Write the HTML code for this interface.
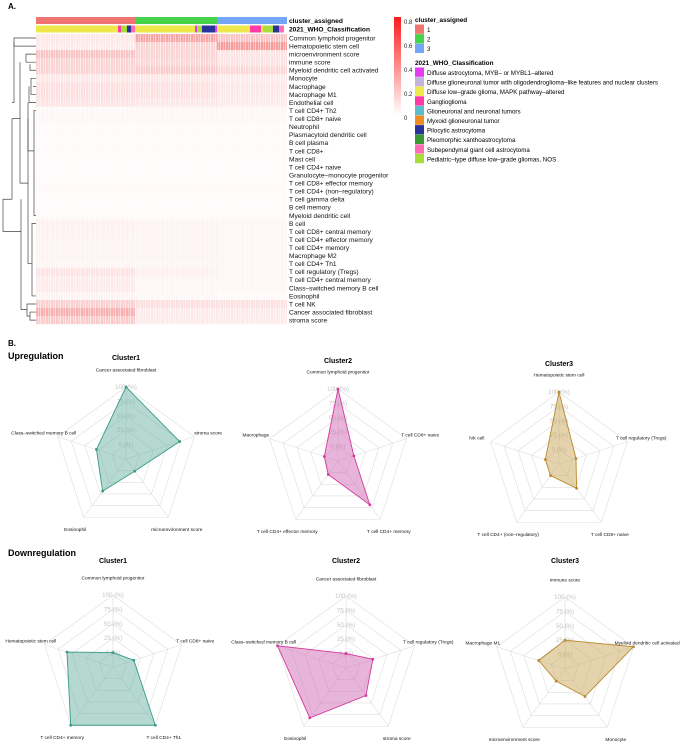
<!DOCTYPE html>
<html><head><meta charset="utf-8"><style>
body{margin:0;background:#fff;width:683px;height:744px;overflow:hidden;font-family:"Liberation Sans",sans-serif}
svg{display:block}
</style></head><body>
<svg id="fig" width="683" height="744" xmlns="http://www.w3.org/2000/svg">
<defs>
<pattern id="stripes" width="5" height="10" patternUnits="userSpaceOnUse">
<rect x="0" y="0" width="1" height="10" fill="#fff" opacity="0.55"/>
<rect x="3" y="0" width="1" height="10" fill="#fff" opacity="0.35"/>
</pattern>
<linearGradient id="cbar" x1="0" y1="1" x2="0" y2="0">
<stop offset="0" stop-color="#fff"/><stop offset="1" stop-color="#ff1a1a"/>
</linearGradient>
</defs>
<text x="8" y="9" font-size="8" font-weight="bold">A.</text>
<text x="8" y="346" font-size="8" font-weight="bold">B.</text>
<text x="8" y="359" font-size="9" font-weight="bold">Upregulation</text>
<text x="8" y="556" font-size="9" font-weight="bold">Downregulation</text>
<g id="heat"></g>
<g id="legend"></g>
<g id="radars"></g>
</svg>
<script>
const NS="http://www.w3.org/2000/svg";
function mk(tag,attrs,parent,txt){const e=document.createElementNS(NS,tag);for(const k in attrs)e.setAttribute(k,attrs[k]);if(txt!==undefined)e.textContent=txt;parent.appendChild(e);return e;}

// ---------- Heatmap data ----------
const rowNames=["Common lymphoid progenitor","Hematopoietic stem cell","microenvironment score","immune score","Myeloid dendritic cell activated","Monocyte","Macrophage","Macrophage M1","Endothelial cell","T cell CD4+ Th2","T cell CD8+ naive","Neutrophil","Plasmacytoid dendritic cell","B cell plasma","T cell CD8+","Mast cell","T cell CD4+ naive","Granulocyte\u2013monocyte progenitor","T cell CD8+ effector memory","T cell CD4+ (non\u2013regulatory)","T cell gamma delta","B cell memory","Myeloid dendritic cell","B cell","T cell CD8+ central memory","T cell CD4+ effector memory","T cell CD4+ memory","Macrophage M2","T cell CD4+ Th1","T cell regulatory (Tregs)","T cell CD4+ central memory","Class\u2013switched memory B cell","Eosinophil","T cell NK","Cancer associated fibroblast","stroma score"];
const clusterLabels=["1","2","3"];
const valsC1=[0.12,0.10,0.30,0.22,0.22,0.12,0.16,0.16,0.14,0.04,0.04,0.02,0.03,0.02,0.03,0.02,0.02,0.02,0.03,0.03,0.02,0.02,0.03,0.07,0.07,0.06,0.06,0.06,0.05,0.14,0.10,0.10,0.06,0.24,0.40,0.26];
const valsC2=[0.45,0.22,0.22,0.20,0.26,0.12,0.15,0.15,0.12,0.05,0.05,0.02,0.03,0.02,0.03,0.02,0.02,0.02,0.03,0.03,0.02,0.02,0.03,0.06,0.06,0.06,0.06,0.06,0.05,0.08,0.05,0.05,0.04,0.16,0.10,0.10];
const valsC3=[0.30,0.50,0.14,0.14,0.20,0.10,0.12,0.11,0.10,0.04,0.04,0.02,0.03,0.02,0.03,0.02,0.02,0.02,0.03,0.03,0.02,0.02,0.03,0.05,0.05,0.05,0.05,0.05,0.05,0.05,0.05,0.04,0.03,0.15,0.10,0.10];
const clusterCounts=[99,82,70];
const whoSegs=[["#eee84a",82],["#ff3aa6",3],["#a9dd3c",6],["#29339a",4],["#ff6ab5",4],["#eee84a",60],["#e43cef",2],["#a9dd3c",5],["#29339a",13],["#e43cef",2],["#eee84a",33],["#ff3aa6",11],["#eee84a",2],["#a9dd3c",10],["#29339a",6],["#ff6ab5",5]];

const heat=document.getElementById('heat');
const hx0=36,hx1=287,hy0=34,rowH=8.06;
const totalN=clusterCounts.reduce((a,b)=>a+b,0);
const xs=n=>hx0+(hx1-hx0)*n/totalN;
const clusterColors=["#f07470","#44d34a","#74a6f8"];
let acc=0;
clusterCounts.forEach((c,i)=>{
  const r=mk('rect',{x:xs(acc),y:17,width:xs(acc+c)-xs(acc),height:7,fill:clusterColors[i]},heat);
  
  
  acc+=c;
});
acc=0;
whoSegs.forEach((s,i)=>{
  const r=mk('rect',{x:xs(acc),y:25.5,width:xs(acc+s[1])-xs(acc),height:7,fill:s[0]},heat);
  
  
  acc+=s[1];
});
const series=[valsC1,valsC2,valsC3];
rowNames.forEach((nm,ri)=>{
  let a=0;
  series.forEach((vals,ci)=>{
    const c=mk('rect',{x:xs(a),y:hy0+ri*rowH,width:xs(a+clusterCounts[ci])-xs(a),height:rowH,fill:'#f03838','fill-opacity':vals[ri]},heat);
    
    
    a+=clusterCounts[ci];
  });
  const t=mk('text',{x:289,y:hy0+ri*rowH+rowH/2+2.4,'font-size':6.6,fill:'#111'},heat,nm);
  
  
});
mk('rect',{x:hx0,y:hy0,width:hx1-hx0,height:rowNames.length*rowH,fill:'url(#stripes)'},heat);
const t1=mk('text',{x:289,y:23,'font-size':6.6,'font-weight':'bold'},heat,'cluster_assigned');

const t2=mk('text',{x:289,y:31.5,'font-size':6.6,'font-weight':'bold'},heat,'2021_WHO_Classification');


// dendrogram (approximate)
const dg=mk('g',{stroke:'#444','stroke-width':0.7,fill:'none'},heat);

const ry=i=>hy0+i*rowH+rowH/2;
const dPaths=[
 `M36 ${ry(0)}H14V${ry(1)}H36`,
 `M36 ${ry(2)}H26V${ry(3)}H36 M36 ${ry(4)}H30V${ry(3)+2}`,
 `M36 ${ry(5)}H31V${ry(7)}H36 M36 ${ry(6)}H33 M36 ${ry(8)}H29V${ry(6)}`,
 `M36 ${ry(9)}H34V${ry(22)}H36 M34 ${ry(14)}H28V${ry(8)}`,
 `M36 ${ry(23)}H32V${ry(32)}H36 M32 ${ry(28)}H28`,
 `M28 ${ry(10)}V${ry(28)} M28 ${ry(18)}H20 M20 ${ry(3)}V${ry(18)} M20 ${ry(10)}H12`,
 `M36 ${ry(33)}H27V${ry(34.5)}H30 M36 ${ry(34)}H30V${ry(35)}H36 M27 ${ry(33.7)}H21`,
 `M12 ${ry(10)}V${ry(20)} M14 ${ry(0.5)}V${ry(8)} M12 ${ry(8)}H14 M21 ${ry(20)}V${ry(33.7)} M12 ${ry(20)}H3V${ry(24)}H21`
];
dPaths.forEach(d=>mk('path',{d:d},dg));

// legend
const lg=document.getElementById('legend');
mk('rect',{x:394,y:17,width:7,height:98,fill:'url(#cbar)'},lg);
[["0.8",22],["0.6",46],["0.4",70],["0.2",94],["0",118]].forEach(t=>mk('text',{x:404,y:t[1]+2,'font-size':6,fill:'#222'},lg,t[0]));
mk('text',{x:415,y:22,'font-size':6.4,'font-weight':'bold'},lg,'cluster_assigned');
clusterLabels.forEach((l,i)=>{mk('rect',{x:415,y:24.5+i*9.6,width:9,height:9.3,fill:clusterColors[i]},lg);mk('text',{x:427,y:32+i*9.6,'font-size':6.2},lg,l);});
mk('text',{x:415,y:65,'font-size':6.4,'font-weight':'bold'},lg,'2021_WHO_Classification');
const whoNames=["Diffuse astrocytoma, MYB\u2013 or MYBL1\u2013altered","Diffuse glioneuronal tumor with oligodendroglioma\u2013like features and nuclear clusters","Diffuse low\u2013grade glioma, MAPK pathway\u2013altered","Ganglioglioma","Glioneuronal and neuronal tumors","Myxoid glioneuronal tumor","Pilocytic astrocytoma","Pleomorphic xanthoastrocytoma","Subependymal giant cell astrocytoma","Pediatric\u2013type diffuse low\u2013grade gliomas, NOS"];
const whoColors=["#e43cef","#c2b3dc","#eee84a","#ff3aa6","#5bbccb","#f08a23","#29339a","#3a9a32","#ff6ab5","#a9dd3c"];
whoNames.forEach((n,i)=>{mk('rect',{x:415,y:67.5+i*9.6,width:9,height:9.3,fill:whoColors[i]},lg);const t=mk('text',{x:427,y:75+i*9.6,'font-size':6.2},lg,n);});

// ---------- Radar data ----------
const upC1Axes=["Cancer associated fibroblast","stroma score","microenvironment score","Eosinophil","Class\u2013switched memory B cell"];
const upC1Vals=[100,73,1,44,29];
const upC2Axes=["Common lymphoid progenitor","T cell CD8+ naive","T cell CD4+ memory","T cell CD4+ effector memory","Macrophage"];
const upC2Vals=[100,4,69,4,0];
const upC3Axes=["Hematopoietic stem cell","T cell regulatory (Tregs)","T cell CD8+ naive","T cell CD4+ (non\u2013regulatory)","NK cell"];
const upC3Vals=[100,6,27,0,0];
const dnC1Axes=["Common lymphoid progenitor","T cell CD8+ naive","T cell CD4+ Th1","T cell CD4+ memory","Hematopoietic stem cell"];
const dnC1Vals=[0,13,100,100,59];
const dnC2Axes=["Cancer associated fibroblast","T cell regulatory (Tregs)","stroma score","Eosinophil","Class\u2013switched memory B cell"];
const dnC2Vals=[0,24,34,82,100];
const dnC3Axes=["immune score","Myeloid dendritic cell activated","Monocyte","microenvironment score","Macrophage M1"];
const dnC3Vals=[25,100,34,1,23];
const ringTicks=["0 (%)","25 (%)","50 (%)","75 (%)","100 (%)"];

const radars=document.getElementById('radars');
function radar(name,title,titleY,cx,cy,axes,vals,stroke,fill){
  const R=72;
  const g=mk('g',{},radars);
  
  
  const rr=v=>R*(0.2+0.8*v/100);
  const ang=i=>(-90+72*i)*Math.PI/180;
  const pt=(i,r)=>[cx+r*Math.cos(ang(i)),cy+r*Math.sin(ang(i))];
  const tt=mk('text',{x:cx,y:titleY,'font-size':7,'font-weight':'bold','text-anchor':'middle'},g,title);
  
  for(let k=0;k<5;k++){
    const r=rr(k*25);
    mk('polygon',{points:[0,1,2,3,4].map(i=>pt(i,r).join(',')).join(' '),fill:'none',stroke:'#ddd','stroke-width':0.6},g);
  }
  for(let i=0;i<5;i++){const p=pt(i,R);mk('line',{x1:cx,y1:cy,x2:p[0],y2:p[1],stroke:'#ddd','stroke-width':0.6},g);}
  ringTicks.forEach((t,k)=>mk('text',{x:cx,y:cy-rr(k*25)+2,'font-size':6.2,fill:'#c4c4c4','text-anchor':'middle'},g,t));
  const pts=vals.map((v,i)=>pt(i,rr(v)));
  const poly=mk('polygon',{points:pts.map(p=>p.join(',')).join(' '),fill:fill,'fill-opacity':0.5,stroke:stroke,'stroke-width':0.9},g);
  
  pts.forEach(p=>{const c=mk('circle',{cx:p[0],cy:p[1],r:1.4,fill:stroke},g);});
  axes.forEach((a,i)=>{const p=pt(i,R*1.2);const t=mk('text',{x:p[0],y:p[1]+(i===0?-1:2),'font-size':4.8,'text-anchor':'middle',fill:'#111'},g,a);});
}
radar('radar-up-cluster1','Cluster1',360,126,459,upC1Axes,upC1Vals,'#3a9a86','#6cb3a3');
radar('radar-up-cluster2','Cluster2',363,338,461,upC2Axes,upC2Vals,'#d53a9d','#cf6cb3');
radar('radar-up-cluster3','Cluster3',366,559,464,upC3Axes,upC3Vals,'#b98a2c','#c9a75a');
radar('radar-down-cluster1','Cluster1',563,113,667,dnC1Axes,dnC1Vals,'#3a9a86','#6cb3a3');
radar('radar-down-cluster2','Cluster2',563,346,668,dnC2Axes,dnC2Vals,'#d53a9d','#cf6cb3');
radar('radar-down-cluster3','Cluster3',563,565,669,dnC3Axes,dnC3Vals,'#b98a2c','#c9a75a');
</script>
</body></html>
